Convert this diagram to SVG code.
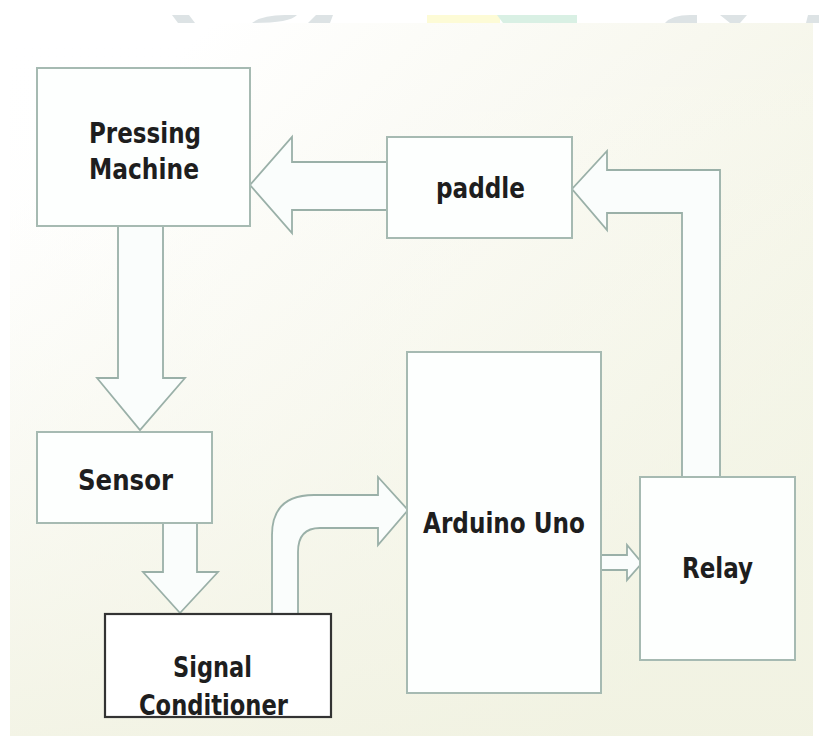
<svg xmlns="http://www.w3.org/2000/svg" width="819" height="736" viewBox="0 0 819 736">
<defs>
<linearGradient id="bg" x1="0.25" y1="0" x2="1" y2="0.7">
<stop offset="0" stop-color="#ffffff"/>
<stop offset="0.45" stop-color="#f8f8ef"/>
<stop offset="1" stop-color="#eef0db"/>
</linearGradient>
<linearGradient id="bg2" x1="0" y1="0" x2="0" y2="1">
<stop offset="0" stop-color="#ffffff" stop-opacity="0"/>
<stop offset="1" stop-color="#f2f3e4" stop-opacity="0.8"/>
</linearGradient>
</defs>
<style>
.box{fill:#fdfffe;stroke:#a6bab2;stroke-width:2}
.dark{fill:#ffffff;stroke:#333333;stroke-width:2.2}
.arr{fill:#fafdfc;stroke:#9ab0a8;stroke-width:1.8;stroke-linejoin:miter}
.lbl{font-family:"DejaVu Sans Condensed","DejaVu Sans",sans-serif;font-weight:bold;font-size:29px;fill:#1e1e1e}
</style>
<rect x="0" y="0" width="819" height="736" fill="#ffffff"/>
<g id="watermark">
<polygon points="172,15 189,15 195,23 178,23" fill="#dde3e5"/>
<path d="M252,23 Q262,15 285,15 L297,15 Q290,23 252,23 Z" fill="#dde3e5"/>
<polygon points="316,15 333,15 330,23 308,23" fill="#dde3e5"/>
<rect x="427" y="15" width="73" height="8" fill="#fdfbd6"/>
<polygon points="497,15 577,15 577,23 503,23" fill="#d9f0e4"/>
<path d="M665,23 Q672,15 690,15 L697,15 L697,23 Z" fill="#dde3e5"/>
<polygon points="720,15 747,15 740,23 730,23" fill="#dde3e5"/>
<polygon points="808,15 819,15 819,23 806,23" fill="#dde3e5"/>
</g>
<rect x="10" y="23" width="803" height="713" fill="url(#bg)"/>
<rect x="10" y="23" width="803" height="713" fill="url(#bg2)"/>
<g id="connectors">
<path class="arr" d="M118,226 V378 H97 L140,430 L185,378 H163 V226 Z"/>
<path class="arr" d="M387,162 H292 V137 L250,185 L292,233 V210 H387 Z"/>
<path class="arr" d="M682,477 V213 H607 V230 L572,189 L607,151 V170 H720 V477 Z"/>
<path class="arr" d="M163,523 V572 H143 L180,613 L218,572 H197 V523 Z"/>
<path class="arr" d="M272,614 V535 Q272,495 314,495 H378 V477 L408,510 L378,545 V528 H320 Q298,528 298,552 V614 Z"/>
<path class="arr" d="M601,555 H627 V545 L642,563 L627,580 V570 H601 Z"/>
</g>
<g id="pressing-machine">
<rect class="box" x="37" y="68" width="213" height="158"/>
<text class="lbl" x="89" y="143" textLength="112" lengthAdjust="spacingAndGlyphs">Pressing</text>
<text class="lbl" x="89" y="179" textLength="110" lengthAdjust="spacingAndGlyphs">Machine</text>
</g>
<g id="paddle">
<rect class="box" x="387" y="137" width="185" height="101"/>
<text class="lbl" x="436" y="198" textLength="89" lengthAdjust="spacingAndGlyphs">paddle</text>
</g>
<g id="sensor">
<rect class="box" x="37" y="432" width="175" height="91"/>
<text class="lbl" x="78" y="490" textLength="95" lengthAdjust="spacingAndGlyphs">Sensor</text>
</g>
<g id="signal-conditioner">
<rect class="dark" x="105" y="614" width="226" height="103"/>
<text class="lbl" x="173" y="677" textLength="79" lengthAdjust="spacingAndGlyphs">Signal</text>
<text class="lbl" x="139" y="715" textLength="149" lengthAdjust="spacingAndGlyphs">Conditioner</text>
</g>
<g id="arduino-uno">
<rect class="box" x="407" y="352" width="194" height="341"/>
<text class="lbl" x="423" y="533" textLength="162" lengthAdjust="spacingAndGlyphs">Arduino Uno</text>
</g>
<g id="relay">
<rect class="box" x="640" y="477" width="155" height="183"/>
<text class="lbl" x="682" y="578" textLength="71" lengthAdjust="spacingAndGlyphs">Relay</text>
</g>
</svg>
